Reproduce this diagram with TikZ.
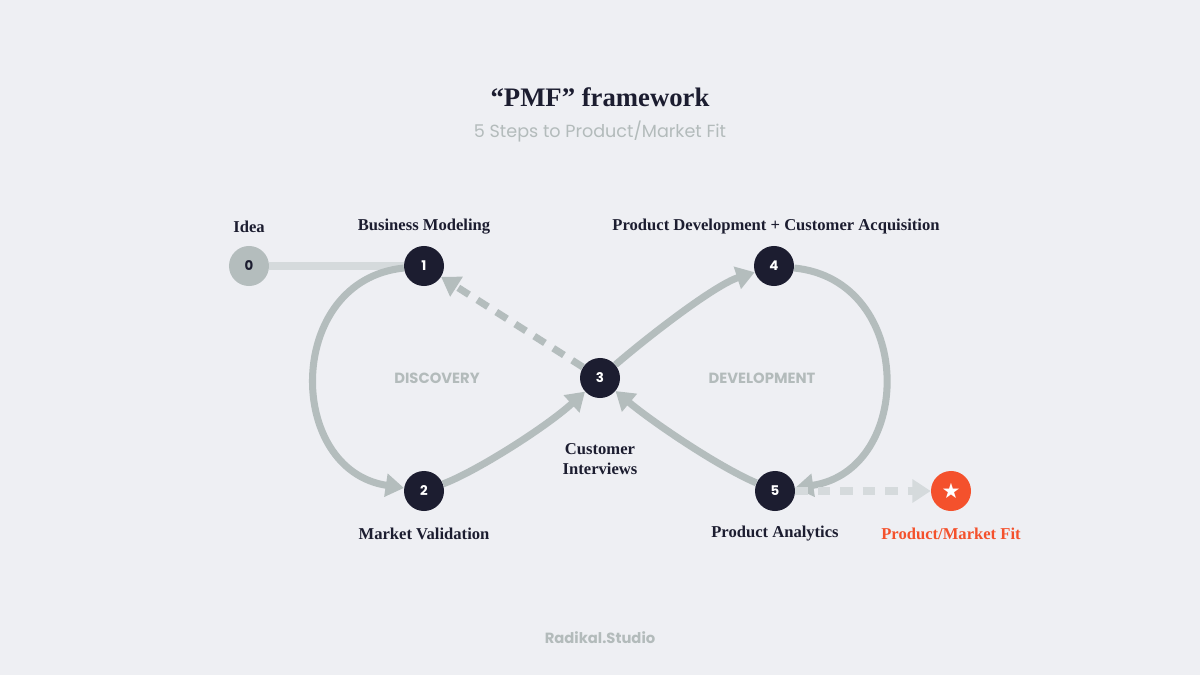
\documentclass[tikz,border=0pt]{standalone}
\usepackage{fontspec}
\setmainfont{Liberation Serif}
\setsansfont{Poppins}
\newfontfamily\symbfont{DejaVu Sans}
\usetikzlibrary{arrows.meta}
\definecolor{fond}{HTML}{EEEFF3}
\definecolor{nuit}{HTML}{1C1D30}
\definecolor{gris}{HTML}{B4BDBD}
\definecolor{grisclair}{HTML}{D5DADC}
\definecolor{orange}{HTML}{F4512C}
\definecolor{gristexte}{HTML}{B3BBBB}

\begin{document}
\begin{tikzpicture}[x=0.025cm,y=-0.025cm]
    % Styles
    \tikzset{etape/.style={circle, minimum size=1cm, inner sep=0pt, fill=nuit, text=white, font=\sffamily\bfseries\fontsize{9.5}{9.5}\selectfont}}%
    \tikzset{titre/.style={font=\bfseries\fontsize{11.8}{14}\selectfont, text=nuit, align=center}}%
    \tikzset{phase/.style={font=\sffamily\bfseries\fontsize{10.5}{12}\selectfont, text=gristexte}}%
    \tikzset{boucle/.style={draw=gris, line width=5pt, -{Triangle[width=16pt,length=13pt]}}}%
    \tikzset{pointille/.style={boucle, dash pattern=on 9pt off 7pt}}%

    % Fond
    \fill[fond] (0,0) rectangle (1200,675);%

    % Titres
    \node[font=\bfseries\fontsize{19}{22}\selectfont, text=nuit] (titre) at (600,97) {“PMF” framework};%
    \node[font=\sffamily\fontsize{12.5}{14}\selectfont, text=gristexte] (soustitre) at (600,132) {5 Steps to Product/Market Fit};%
    \node[font=\sffamily\bfseries\fontsize{10.5}{12}\selectfont, text=gristexte] (signature) at (600,638) {Radikal.Studio};%

    % Etapes
    \node[etape, fill=gris, text=nuit] (e0) at (249,266) {0};%
    \node[etape] (e1) at (424,266) {1};%
    \node[etape] (e2) at (424,491) {2};%
    \node[etape] (e3) at (600,378) {3};%
    \node[etape] (e4) at (774,266) {4};%
    \node[etape] (e5) at (775,491) {5};%
    \node[etape, fill=orange] (pmf) at (951,491) {\symbfont\fontsize{15}{15}\selectfont ★};%

    % Noms des etapes
    \node[titre] (nom0) at (249,227) {Idea};%
    \node[titre] (nom1) at (424,227) {Business Modeling};%
    \node[titre] (nom2) at (424,534) {Market Validation};%
    \node[titre] (nom3) at (600,459) {Customer\\Interviews};%
    \node[titre] (nom4) at (776,227) {Product Development + Customer Acquisition};%
    \node[titre] (nom5) at (775,534) {Product Analytics};%
    \node[titre, text=orange] (nompmf) at (951,534) {Product/Market Fit};%

    % Phases
    \node[phase] (decouverte) at (437,378) {DISCOVERY};%
    \node[phase] (developpement) at (762,378) {DEVELOPMENT};%

    % Liens
    \draw[grisclair, line width=5.5pt] (e0) -- (e1);%
    \draw[boucle] (e1) .. controls (285,280) and (285,470) .. (e2);%
    \draw[boucle] (e2) .. controls (475,472) and (545,428) .. (e3);%
    \draw[boucle] (e3) .. controls (650,335) and (715,285) .. (e4);%
    \draw[boucle] (e4) .. controls (915,280) and (915,470) .. (e5);%
    \draw[boucle] (e5) .. controls (715,465) and (650,420) .. (e3);%
    \draw[pointille] (e3) -- (e1);%
    \draw[pointille, draw=grisclair] (e5) -- (pmf);%
\end{tikzpicture}
\end{document}
